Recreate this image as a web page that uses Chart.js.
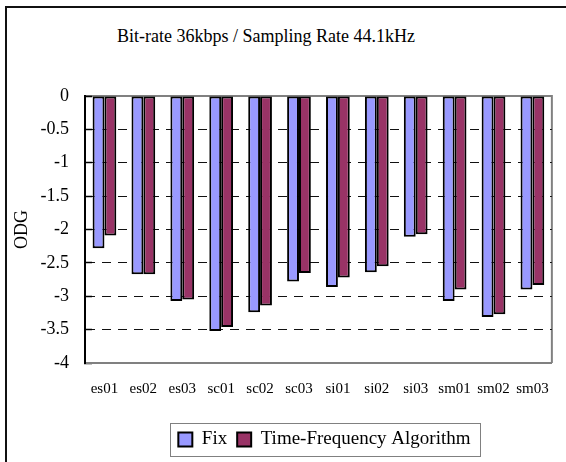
<!DOCTYPE html>
<html>
<head>
<meta charset="utf-8">
<script src="https://cdn.jsdelivr.net/npm/chart.js@4"></script>
<style>
  html, body { margin: 0; padding: 0; background: #fff; }
  #wrap { position: relative; width: 566px; height: 462px; overflow: hidden; }
  #frame {
    position: absolute; left: 5px; top: 6px; width: 600px; height: 500px;
    border-left: 2px solid #111; border-top: 2px solid #111;
  }
  #title {
    position: absolute; left: 0; top: 27px; width: 532px; text-align: center;
    font: 18px "Liberation Serif", serif; line-height: 18px; color: #000;
  }
  canvas { position: absolute; left: 0; top: 0; }
</style>
</head>
<body>
<div id="wrap">
  <div id="frame"></div>
  <div id="title">Bit-rate 36kbps / Sampling Rate 44.1kHz</div>
  <canvas id="odg" width="566" height="462"></canvas>
</div>
<script>
(function () {
  'use strict';

  var categories = ['es01', 'es02', 'es03', 'sc01', 'sc02', 'sc03',
                    'si01', 'si02', 'si03', 'sm01', 'sm02', 'sm03'];
  var fixValues = [-2.28, -2.67, -3.07, -3.52, -3.24, -2.78,
                   -2.86, -2.64, -2.11, -3.07, -3.31, -2.90];
  var tfValues = [-2.09, -2.67, -3.05, -3.46, -3.14, -2.65,
                  -2.72, -2.55, -2.07, -2.90, -3.27, -2.83];
  var seriesNames = ['Fix', 'Time-Frequency Algorithm'];
  var yTicks = [0, -0.5, -1, -1.5, -2, -2.5, -3, -3.5, -4];

  var serif = '"Liberation Serif", "Times New Roman", serif';
  Chart.defaults.font.family = serif;
  Chart.defaults.color = '#000';

  // gray plot-area outline on the top and right edges, under the ticks
  var plotFrame = {
    id: 'plotFrame',
    beforeDraw: function (chart) {
      var a = chart.chartArea, ctx = chart.ctx;
      ctx.save();
      ctx.strokeStyle = '#808080';
      ctx.lineWidth = 2;
      ctx.beginPath();
      ctx.moveTo(a.left, a.top);
      ctx.lineTo(a.right, a.top);
      ctx.lineTo(a.right, a.bottom);
      ctx.stroke();
      ctx.restore();
    }
  };

  // nudge the legend a little right and put a thin box around it
  var legendFrame = {
    id: 'legendFrame',
    afterLayout: function (chart) {
      if (!chart.legend) return;
      chart.legend.left += 6;
      chart.legend.right += 6;
    },
    afterDraw: function (chart) {
      var boxes = chart.legend && chart.legend.legendHitBoxes;
      if (!boxes || !boxes.length) return;
      var l = Infinity, r = -Infinity, t = Infinity, b = -Infinity;
      boxes.forEach(function (h) {
        l = Math.min(l, h.left); r = Math.max(r, h.left + h.width);
        t = Math.min(t, h.top); b = Math.max(b, h.top + h.height);
      });
      var ctx = chart.ctx;
      ctx.save();
      ctx.strokeStyle = '#808080';
      ctx.lineWidth = 1;
      ctx.strokeRect(Math.round(l - 8) + 0.5, Math.round(t - 7) + 0.5,
                     Math.round(r - l + 18), Math.round(b - t + 14));
      ctx.restore();
    }
  };

  var el = document.getElementById('odg');
  new Chart(el, {
    type: 'bar',
    data: {
      labels: categories,
      datasets: [
        {
          label: seriesNames[0],
          data: fixValues,
          backgroundColor: '#9999ff',
          borderColor: '#000',
          borderWidth: 2,
          borderSkipped: false
        },
        {
          label: seriesNames[1],
          data: tfValues,
          backgroundColor: '#993366',
          borderColor: '#000',
          borderWidth: 2,
          borderSkipped: false
        }
      ]
    },
    options: {
      responsive: false,
      animation: false,
      layout: { padding: { left: 0, right: 8, top: 96, bottom: 3 } },
      datasets: { bar: { categoryPercentage: 0.61, barPercentage: 1 } },
      scales: {
        x: {
          grid: { display: false, drawTicks: false },
          border: { display: true, color: '#808080', width: 2 },
          ticks: { color: '#000', font: { family: serif, size: 15 }, padding: 17, maxRotation: 0 },
          afterFit: function (s) { s.height = 57; }
        },
        y: {
          min: -4,
          max: 0,
          afterBuildTicks: function (s) {
            s.ticks = yTicks.map(function (v) { return { value: v }; });
          },
          grid: {
            color: function (c) {
              var v = c.tick && c.tick.value;
              return (v === 0 || v === -4) ? 'rgba(0,0,0,0)' : '#111';
            },
            tickColor: '#000',
            tickLength: -7,
            tickWidth: 1.5,
            lineWidth: 1
          },
          border: { display: true, color: '#000', width: 2, dash: [9, 7] },
          ticks: {
            color: '#000',
            padding: 23,
            font: { family: serif, size: 18 },
            callback: function (v) { return String(+Number(v).toFixed(1)); }
          },
          title: {
            display: true,
            text: 'ODG',
            color: '#000',
            font: { family: serif, size: 18 },
            padding: { top: 11, bottom: 0 }
          },
          afterFit: function (s) { s.width = 85; }
        }
      },
      plugins: {
        title: { display: false },
        tooltip: { enabled: false },
        legend: {
          position: 'bottom',
          fullSize: false,
          labels: {
            color: '#000',
            font: { family: serif, size: 19 },
            boxWidth: 14,
            boxHeight: 14,
            padding: 10
          }
        }
      }
    },
    plugins: [plotFrame, legendFrame]
  });
})();
</script>
</body>
</html>
